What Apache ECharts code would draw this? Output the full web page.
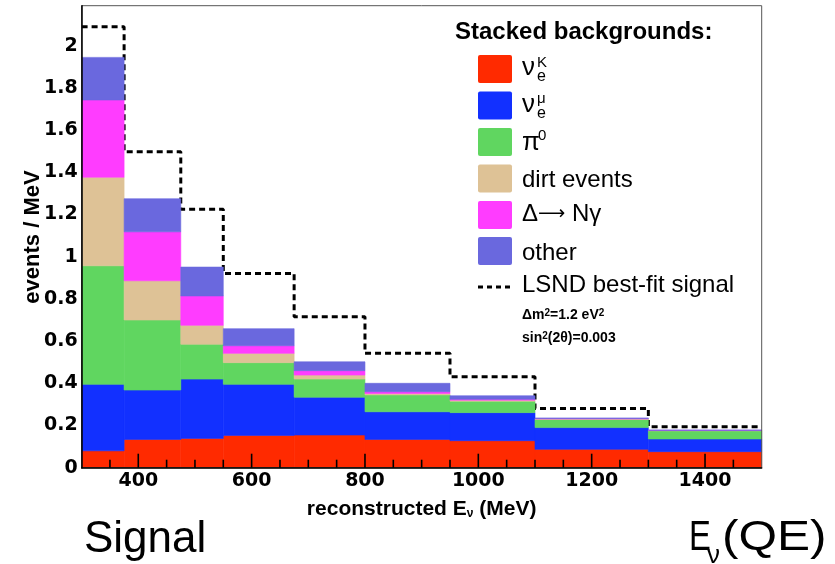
<!DOCTYPE html>
<html>
<head>
<meta charset="utf-8">
<script src="https://cdn.jsdelivr.net/npm/echarts@6/dist/echarts.min.js"></script>
<style>
html,body{margin:0;padding:0;background:#fff;}
#chart{width:835px;height:564px;}
</style>
</head>
<body>
<div id="chart"></div>
<script>
// ---- data ----
const binEdges   = [300, 375, 475, 550, 675, 800, 950, 1100, 1300, 1500];
const nueK       = [0.080, 0.134, 0.139, 0.153, 0.155, 0.134, 0.128, 0.087, 0.076];
const nueMu      = [0.315, 0.234, 0.281, 0.242, 0.179, 0.131, 0.133, 0.103, 0.060];
const pi0        = [0.562, 0.332, 0.165, 0.103, 0.086, 0.080, 0.054, 0.039, 0.039];
const dirt       = [0.420, 0.186, 0.090, 0.044, 0.019, 0.007, 0.005, 0.002, 0.001];
const deltaNgam  = [0.366, 0.232, 0.139, 0.036, 0.021, 0.008, 0.004, 0.002, 0.001];
const otherBg    = [0.202, 0.157, 0.137, 0.081, 0.042, 0.040, 0.017, 0.003, 0.002];
const lsndSignal = [2.090, 1.498, 1.225, 0.921, 0.716, 0.542, 0.431, 0.281, 0.194];
const yTicks     = [0, 0.2, 0.4, 0.6, 0.8, 1, 1.2, 1.4, 1.6, 1.8, 2];
const xTicks     = [400, 600, 800, 1000, 1200, 1400];

const X_MIN = 300, X_MAX = 1500, Y_MIN = 0, Y_MAX = 2.19;

const layers = [
  {name: 'nueK',  values: nueK,      color: '#ff2a00'},
  {name: 'nueMu', values: nueMu,     color: '#1230ff'},
  {name: 'pi0',   values: pi0,       color: '#60d660'},
  {name: 'dirt',  values: dirt,      color: '#dec296'},
  {name: 'delta', values: deltaNgam, color: '#ff3cff'},
  {name: 'other', values: otherBg,   color: '#6a68de'}
];

// build stacked rectangles [x0, x1, base, top]
const cum = binEdges.slice(1).map(() => 0);
const series = [];
layers.forEach((L) => {
  const data = L.values.map((v, i) => {
    const base = cum[i];
    cum[i] = base + v;
    return [binEdges[i], binEdges[i + 1], base, cum[i]];
  });
  series.push({
    type: 'custom',
    name: L.name,
    z: -1,
    encode: {x: [0, 1], y: [2, 3]},
    data: data,
    renderItem: function (params, api) {
      const p0 = api.coord([api.value(0), api.value(3)]);
      const p1 = api.coord([api.value(1), api.value(2)]);
      return {
        type: 'rect',
        shape: {x: p0[0], y: p0[1], width: p1[0] - p0[0], height: p1[1] - p0[1]},
        style: {fill: L.color, stroke: L.color, lineWidth: 0.6}
      };
    }
  });
});

// LSND dashed step line
const lsndPts = lsndSignal.map((v, i) => [binEdges[i], v]);
lsndPts.push([binEdges[binEdges.length - 1], lsndSignal[lsndSignal.length - 1]]);
series.unshift({
  type: 'line',
  name: 'LSND',
  step: 'end',
  z: -2,
  symbol: 'none',
  data: lsndPts,
  lineStyle: {color: '#000', width: 3, type: [6, 4]},
  silent: true
});

// tick definitions: [x, y, length, direction(0 = along x from y axis, 1 = up from x axis)]
const yTickRows = [];
yTicks.forEach(v => yTickRows.push([X_MIN, v, X_MIN, v, 20]));
for (let k = 1; k * 0.05 < Y_MAX; k++) { if (k % 4) yTickRows.push([X_MIN, +(k * 0.05).toFixed(2), X_MIN, +(k * 0.05).toFixed(2), 10]); }
const xTickRows = [];
xTicks.forEach(v => xTickRows.push([v, v, Y_MIN, Y_MIN, 14]));
for (let v = 350; v < X_MAX; v += 50) { if (v % 200) xTickRows.push([v, v, Y_MIN, Y_MIN, 8]); }

function tickSeries(name, rows, vertical) {
  return {
    type: 'custom',
    name: name,
    z: 20,
    silent: true,
    clip: false,
    dimensions: ['xa', 'xb', 'ya', 'yb', 'len'],
    encode: {x: [0, 1], y: [2, 3]},
    data: rows,
    renderItem: function (params, api) {
      const p = api.coord([api.value(0), api.value(2)]);
      const len = api.value(4);
      const w = 1.6;
      return {
        type: 'rect',
        shape: vertical ? {x: p[0] - w / 2, y: p[1] - len, width: w, height: len}
                        : {x: p[0], y: p[1] - w / 2, width: len, height: w},
        style: {fill: '#000'}
      };
    }
  };
}
series.push(tickSeries('yTicks', yTickRows, false));
series.push(tickSeries('xTicks', xTickRows, true));

const chart = echarts.init(document.getElementById('chart'), null, {renderer: 'canvas'});

const FONT = '"Liberation Sans", Arial, sans-serif';
const swTops = [55, 91.5, 128, 164.5, 201, 237];
const swX = 478, swW = 34, swH = 28, labX = 522;
const graphic = [];
graphic.push({type: 'text', x: 455, y: 32, z: 10,
  style: {text: 'Stacked backgrounds:', font: 'bold 24px ' + FONT, fill: '#000', verticalAlign: 'middle'}});
layers.forEach((L, i) => {
  graphic.push({type: 'rect', z: 10, shape: {x: swX, y: swTops[i], width: swW, height: swH, r: 2},
    style: {fill: L.color}});
});
function cy(i) { return swTops[i] + swH / 2; }
// nu_e^K
graphic.push({type: 'text', x: labX, y: cy(0) - 1, z: 10, style: {text: '\u03bd', font: '26px ' + FONT, fill: '#000', verticalAlign: 'middle'}});
graphic.push({type: 'text', x: labX + 15, y: cy(0) - 14, z: 10, style: {text: 'K', font: '15px ' + FONT, fill: '#000', verticalAlign: 'top'}});
graphic.push({type: 'text', x: labX + 15, y: cy(0) + 16, z: 10, style: {text: 'e', font: '16px ' + FONT, fill: '#000', verticalAlign: 'bottom'}});
// nu_e^mu
graphic.push({type: 'text', x: labX, y: cy(1) - 1, z: 10, style: {text: '\u03bd', font: '26px ' + FONT, fill: '#000', verticalAlign: 'middle'}});
graphic.push({type: 'text', x: labX + 15, y: cy(1) - 14, z: 10, style: {text: '\u03bc', font: '15px ' + FONT, fill: '#000', verticalAlign: 'top'}});
graphic.push({type: 'text', x: labX + 15, y: cy(1) + 16, z: 10, style: {text: 'e', font: '16px ' + FONT, fill: '#000', verticalAlign: 'bottom'}});
// pi0
graphic.push({type: 'text', x: labX, y: cy(2) + 1, z: 10, style: {text: '\u03c0', font: '26px ' + FONT, fill: '#000', verticalAlign: 'middle'}});
graphic.push({type: 'text', x: labX + 16, y: cy(2) - 14, z: 10, style: {text: '0', font: '15px ' + FONT, fill: '#000', verticalAlign: 'top'}});
// others
graphic.push({type: 'text', x: labX, y: cy(3) + 2, z: 10, style: {text: 'dirt events', font: '24px ' + FONT, fill: '#000', verticalAlign: 'middle'}});
graphic.push({type: 'text', x: labX, y: cy(4) - 1, z: 10, style: {
  text: '{a|\u0394}{b|\u27f6}{a| N\u03b3}', verticalAlign: 'middle',
  rich: {a: {font: '24px ' + FONT, fill: '#000'}, b: {font: '19px "DejaVu Sans"', fill: '#000'}}}});
graphic.push({type: 'text', x: labX, y: cy(5) + 2, z: 10, style: {text: 'other', font: '24px ' + FONT, fill: '#000', verticalAlign: 'middle'}});
graphic.push({type: 'line', z: 10, shape: {x1: swX, y1: 287, x2: swX + swW, y2: 287},
  style: {stroke: '#000', lineWidth: 3, lineDash: [5, 4]}});
graphic.push({type: 'text', x: labX, y: 285, z: 10, style: {text: 'LSND best-fit signal', font: '24px ' + FONT, fill: '#000', verticalAlign: 'middle'}});
graphic.push({type: 'text', x: labX, y: 315, z: 10, style: {
  text: '{b|\u0394m}{s|2}{b|=1.2 eV}{s|2}', verticalAlign: 'middle',
  rich: {b: {font: 'bold 14px ' + FONT, fill: '#000', lineHeight: 14, verticalAlign: 'top'},
         s: {font: 'bold 10px ' + FONT, fill: '#000', lineHeight: 6, verticalAlign: 'top'}}}});
graphic.push({type: 'text', x: labX, y: 338, z: 10, style: {
  text: '{b|sin}{s|2}{b|(2\u03b8)=0.003}', verticalAlign: 'middle',
  rich: {b: {font: 'bold 14px ' + FONT, fill: '#000', lineHeight: 14, verticalAlign: 'top'},
         s: {font: 'bold 10px ' + FONT, fill: '#000', lineHeight: 6, verticalAlign: 'top'}}}});
// y axis title
graphic.push({type: 'text', x: 33, y: 237, rotation: Math.PI / 2, z: 10, style: {
  text: 'events / MeV', font: 'bold 22px ' + FONT, fill: '#000', align: 'center', verticalAlign: 'middle'}});
// bottom captions
graphic.push({type: 'text', x: 84, y: 540, z: 10, style: {text: 'Signal', font: '44px ' + FONT, fill: '#000', verticalAlign: 'middle'}});
graphic.push({type: 'text', x: 689, y: 538, scaleX: 0.78, z: 10, style: {text: 'E', font: '42px ' + FONT, fill: '#000', verticalAlign: 'middle'}});
graphic.push({type: 'text', x: 707, y: 556, z: 10, style: {text: '\u03bd', font: '26px ' + FONT, fill: '#000', verticalAlign: 'middle'}});
graphic.push({type: 'text', x: 722, y: 538, scaleX: 1.18, z: 10, style: {text: '(QE)', font: '42px ' + FONT, fill: '#000', verticalAlign: 'middle'}});

const option = {
  animation: false,
  backgroundColor: '#fff',
  grid: {left: 81.6, right: 73.3, top: 5.7, bottom: 96.3, show: true, borderColor: '#555', borderWidth: 1, containLabel: false},
  xAxis: {
    type: 'value', min: X_MIN, max: X_MAX, splitNumber: 6,
    axisLine: {show: true, onZero: false, lineStyle: {color: '#000', width: 1.5}},
    axisTick: {show: false},
    minorTick: {show: false},
    splitLine: {show: false},
    axisLabel: {show: true, margin: 4, showMinLabel: false, showMaxLabel: false,
      color: '#000', fontFamily: '"DejaVu Sans"', fontWeight: 'bold', fontSize: 19,
      formatter: function (v) {
        const t = xTicks.find(k => Math.abs(k - v) < 1e-6);
        return t === undefined ? '' : String(t);
      }},
    name: '{b|reconstructed E}{s|\u03bd}{b| (MeV)}',
    nameLocation: 'middle', nameGap: 30,
    nameTextStyle: {rich: {
      b: {fontFamily: FONT, fontWeight: 'bold', fontSize: 21, color: '#000', lineHeight: 22, verticalAlign: 'bottom'},
      s: {fontFamily: FONT, fontWeight: 'bold', fontSize: 12, color: '#000', lineHeight: 2, verticalAlign: 'bottom'}}}
  },
  yAxis: {
    type: 'value', min: Y_MIN, max: Y_MAX, interval: 0.2,
    axisLine: {show: true, lineStyle: {color: '#000', width: 1.5}},
    axisTick: {show: false},
    minorTick: {show: false},
    splitLine: {show: false},
    axisLabel: {margin: 4, showMaxLabel: false, color: '#000', fontFamily: '"DejaVu Sans"', fontWeight: 'bold', fontSize: 19,
      formatter: function (v) {
        const t = yTicks.find(k => Math.abs(k - v) < 1e-6);
        return t === undefined ? '' : String(t);
      }}
  },
  graphic: graphic,
  series: series
};
chart.setOption(option);
</script>
</body>
</html>
